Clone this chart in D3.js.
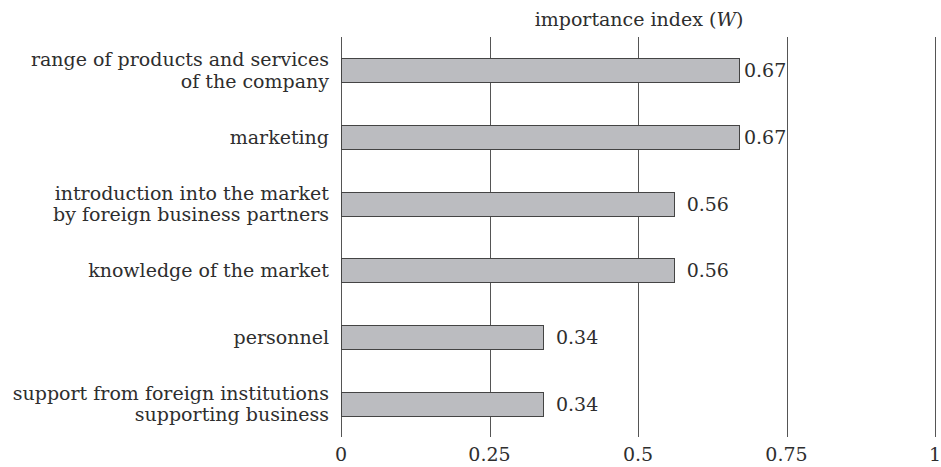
<!DOCTYPE html>
<html>
<head>
<meta charset="utf-8">
<script src="https://cdn.jsdelivr.net/npm/d3@7"></script>
<style>
  body { margin: 0; background: #fff; }
  text { font-family: "DejaVu Serif", "Liberation Serif", serif; fill: #2e2e2e; }
</style>
</head>
<body>
<div id="chart"></div>
<script>
var w = 941, h = 467;

// categories, top to bottom (each entry = lines of the label)
var categories = [
    ["range of products and services", "of the company"],
    ["marketing"],
    ["introduction into the market", "by foreign business partners"],
    ["knowledge of the market"],
    ["personnel"],
    ["support from foreign institutions", "supporting business"]
];
var values = [0.67, 0.67, 0.56, 0.56, 0.34, 0.34];
var ticks = [0, 0.25, 0.5, 0.75, 1];
var tickLabels = ["0", "0.25", "0.5", "0.75", "1"];

var svg = d3.select("#chart").append("svg")
    .attr("width", w)
    .attr("height", h);

var xScale = d3.scaleLinear()
    .domain([0, 1])
    .range([341, 935]);

var yScale = d3.scaleBand()
    .domain(d3.range(categories.length))
    .range([37, 437])
    .paddingInner(0.64)
    .paddingOuter(0.32);

//GRID
svg.append("g")
    .selectAll("line")
    .data(ticks)
    .enter().append("line")
    .attr("x1", function (d) { return Math.round(xScale(d)) + 0.5; })
    .attr("x2", function (d) { return Math.round(xScale(d)) + 0.5; })
    .attr("y1", 37)
    .attr("y2", 437)
    .attr("stroke", "#555")
    .attr("stroke-width", 1);

//TICK LABELS
svg.append("g")
    .selectAll("text")
    .data(ticks)
    .enter().append("text")
    .attr("x", function (d) { return xScale(d); })
    .attr("y", 461)
    .attr("text-anchor", "middle")
    .style("font-size", "19px")
    .text(function (d, i) { return tickLabels[i]; });

//TITLE
svg.append("text")
    .attr("x", xScale(0.5) + 1)
    .attr("y", 26)
    .attr("text-anchor", "middle")
    .style("font-size", "19px")
    .html("importance index (<tspan font-style='italic'>W</tspan>)");

//BARS
svg.append("g")
    .selectAll("rect")
    .data(values)
    .enter().append("rect")
    .attr("x", Math.round(xScale(0)) + 0.5)
    .attr("y", function (d, i) { return Math.round(yScale(i)) + 0.5; })
    .attr("width", function (d) { return Math.round(xScale(d) - xScale(0)); })
    .attr("height", Math.round(yScale.bandwidth()))
    .attr("fill", "#bbbcc0")
    .attr("stroke", "#444")
    .attr("stroke-width", 1);

//VALUE LABELS
svg.append("g")
    .selectAll("text")
    .data(values)
    .enter().append("text")
    .attr("x", function (d) {
        // squeeze the label in front of the 0.75 gridline when needed
        return d > 0.6 ? xScale(d) + 5 : xScale(d) + 13;
    })
    .attr("y", function (d, i) { return yScale(i) + yScale.bandwidth() / 2 + 7; })
    .style("font-size", "19px")
    .text(function (d) { return d.toFixed(2); });

//CATEGORY LABELS
var cat = svg.append("g")
    .selectAll("text")
    .data(categories)
    .enter().append("text")
    .attr("text-anchor", "end")
    .style("font-size", "19px")
    .attr("y", function (d, i) {
        var c = yScale(i) + yScale.bandwidth() / 2 + 7;
        return d.length > 1 ? c - 11 : c;
    });

cat.selectAll("tspan")
    .data(function (d) { return d; })
    .enter().append("tspan")
    .attr("x", 329)
    .attr("dy", function (d, i) { return i ? 21.5 : 0; })
    .text(function (d) { return d; });
</script>
</body>
</html>
